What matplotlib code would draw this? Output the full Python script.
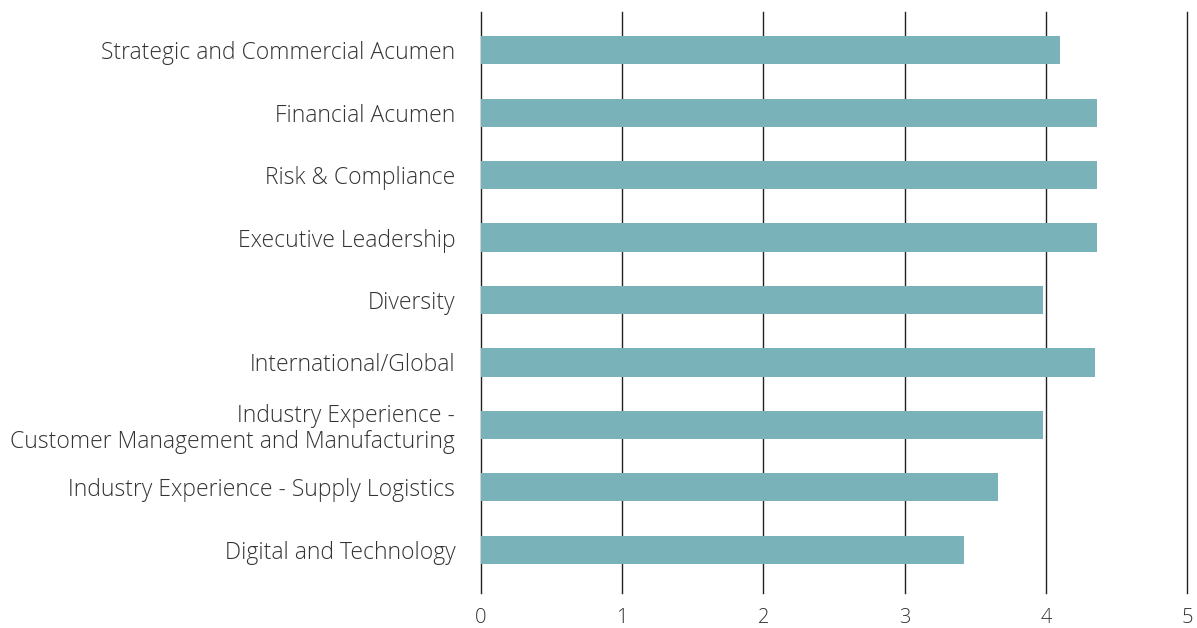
import matplotlib.pyplot as plt
import numpy as np

# data
categories = [
    'Strategic and Commercial Acumen',
    'Financial Acumen',
    'Risk & Compliance',
    'Executive Leadership',
    'Diversity',
    'International/Global',
    'Industry Experience -\nCustomer Management and Manufacturing',
    'Industry Experience - Supply Logistics',
    'Digital and Technology',
]
scores = [4.1, 4.36, 4.36, 4.36, 3.98, 4.35, 3.98, 3.66, 3.42]
x_ticks = [0, 1, 2, 3, 4, 5]

plt.rcParams['font.family'] = ['Open Sans', 'DejaVu Sans']

fig = plt.figure(figsize=(11.97, 6.28), dpi=100)
ax = fig.add_axes([0.4018, 0.0557, 0.5899, 0.9252])

y = np.arange(len(categories))[::-1]
ax.barh(y, scores, height=0.45, color='#7ab2ba', zorder=3)

ax.set_xlim(0, 5)
ax.set_ylim(-0.69, 8.61)
ax.set_xticks(x_ticks)
ax.set_xticklabels([str(t) for t in x_ticks])
ax.set_yticks(y)
ax.set_yticklabels(categories, linespacing=1.1)

# 网格线
for t in x_ticks:
    ax.axvline(t, color='#222222', linewidth=1.0, zorder=1, clip_on=False)

for s in ax.spines.values():
    s.set_visible(False)
ax.tick_params(axis='both', length=0, colors='#333333')
ax.tick_params(axis='y', pad=18.5, labelsize=16.5)
ax.tick_params(axis='x', pad=11, labelsize=14.5)
for lbl in ax.get_yticklabels() + ax.get_xticklabels():
    lbl.set_fontweight('light')

fig.savefig('out.png', dpi=100)
